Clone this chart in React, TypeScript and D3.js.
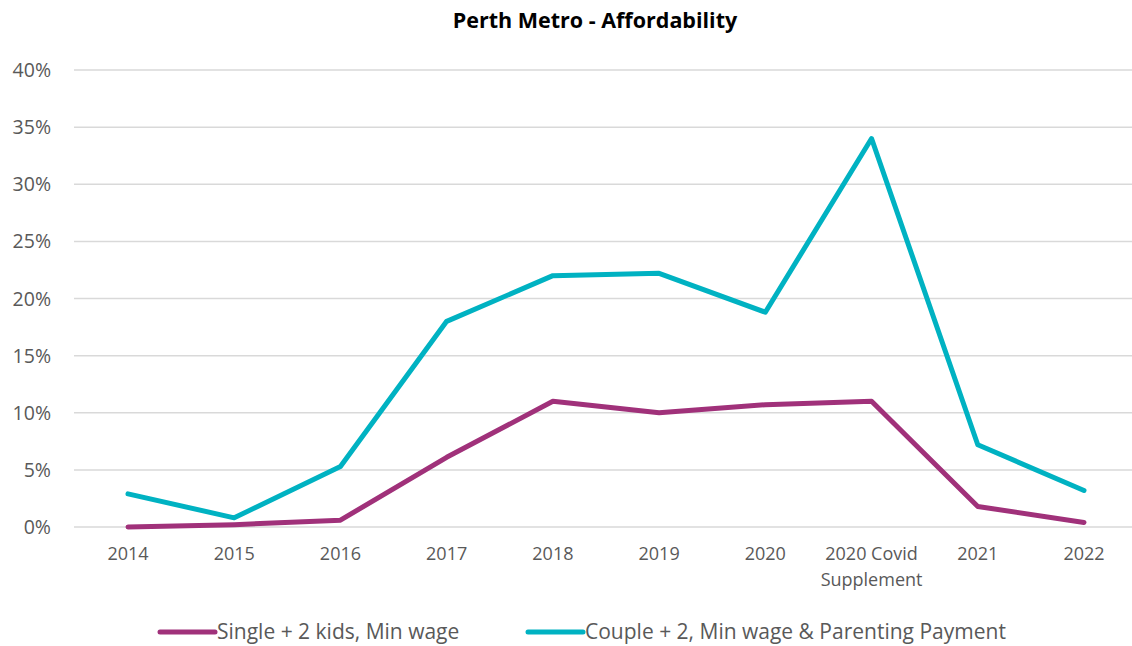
import React, { useEffect, useRef } from "react";
import * as d3 from "d3";

const categories = [
  "2014", "2015", "2016", "2017", "2018", "2019", "2020",
  "2020 Covid Supplement", "2021", "2022",
];
const singleValues = [0.0, 0.2, 0.6, 6.1, 11.0, 10.0, 10.7, 11.0, 1.8, 0.4];
const coupleValues = [2.9, 0.8, 5.3, 18.0, 22.0, 22.2, 18.8, 34.0, 7.2, 3.2];
const yTicks = [0, 5, 10, 15, 20, 25, 30, 35, 40];
const seriesNames = ["Single + 2 kids, Min wage", "Couple + 2, Min wage & Parenting Payment"];
const seriesColors = ["#A0317A", "#00B2C2"];

const App = () => {
  const ref = useRef<SVGSVGElement>(null);

  useEffect(() => {
    const svg = d3.select(ref.current);
    svg.selectAll("*").remove();
    const font = "'Open Sans', sans-serif";

    const x = d3.scalePoint<string>().domain(categories).range([128, 1084]);
    const y = d3.scaleLinear().domain([0, 40]).range([527, 70]);

    svg.append("text")
      .attr("x", 595).attr("y", 28)
      .attr("text-anchor", "middle")
      .style("font-family", font).style("font-weight", "bold").style("font-size", "21.5px")
      .style("fill", "#000")
      .text("Perth Metro - Affordability");

    // grid lines
    svg.append("g").selectAll("line").data(yTicks).enter().append("line")
      .attr("x1", 74).attr("x2", 1132)
      .attr("y1", (d) => y(d)).attr("y2", (d) => y(d))
      .style("stroke", "#D9D9D9").style("stroke-width", 1.5);

    svg.append("g").selectAll("text").data(yTicks).enter().append("text")
      .attr("x", 51).attr("y", (d) => y(d) + 7)
      .attr("text-anchor", "end")
      .style("font-family", font).style("font-size", "19.5px").style("fill", "#595959")
      .text((d) => d + "%");

    const xl = svg.append("g").selectAll("text").data(categories).enter().append("text")
      .attr("text-anchor", "middle")
      .style("font-family", font).style("font-size", "18px").style("fill", "#595959");
    xl.each(function (d) {
      const t = d3.select(this);
      const parts = d === "2020 Covid Supplement" ? ["2020 Covid", "Supplement"] : [d];
      parts.forEach((p, i) => {
        t.append("tspan").attr("x", x(d)!).attr("y", 560 + i * 26).text(p);
      });
    });

    const line = d3.line<number>()
      .x((_, i) => x(categories[i])!)
      .y((d) => y(d));

    [singleValues, coupleValues].forEach((vals, i) => {
      svg.append("path")
        .datum(vals)
        .attr("d", line)
        .style("fill", "none")
        .style("stroke", seriesColors[i])
        .style("stroke-width", 5)
        .style("stroke-linecap", "round")
        .style("stroke-linejoin", "round");
    });

    // legend
    const legendX = [160, 528];
    seriesNames.forEach((name, i) => {
      svg.append("line")
        .attr("x1", legendX[i]).attr("x2", legendX[i] + 55)
        .attr("y1", 632).attr("y2", 632)
        .style("stroke", seriesColors[i]).style("stroke-width", 5).style("stroke-linecap", "round");
      svg.append("text")
        .attr("x", legendX[i] + 57).attr("y", 639)
        .style("font-family", font).style("font-size", "21px").style("fill", "#595959")
        .text(name);
    });
  }, []);

  return (
    <svg ref={ref} width={1132} height={646}
      style={{ position: "absolute", left: 0, top: 0, background: "#fff" }} />
  );
};

export default App;
